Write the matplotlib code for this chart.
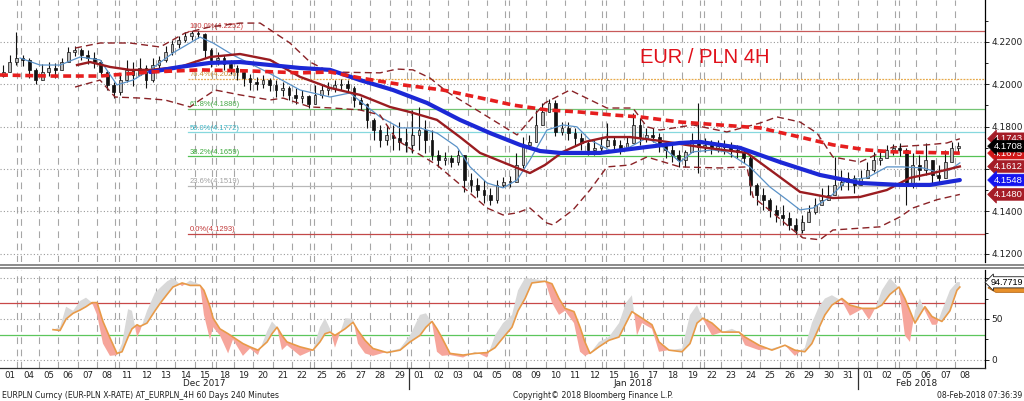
import matplotlib
matplotlib.use('Agg')
import matplotlib.pyplot as plt
from matplotlib.lines import Line2D
from matplotlib.patches import Polygon
import numpy as np

plt.rcParams['font.family'] = ['DejaVu Sans']

# trading days on the time axis (4h bars, weekends skipped)
day_labels = ['01', '04', '05', '06', '07', '08', '11', '12', '13', '14', '15', '18', '19', '20', '21', '22',
              '25', '26', '27', '28', '29',
              '01', '02', '03', '04', '05', '08', '09', '10', '11', '12', '15', '16', '17', '18', '19', '22',
              '23', '24', '25', '26', '29', '30', '31',
              '01', '02', '05', '06', '07', '08']
month_labels = ['Dec 2017', 'Jan 2018', 'Feb 2018']
month_first_day = [0, 21, 44]
week_breaks = [0, 5, 10, 15, 20, 25, 30, 35, 40, 45]   # last day before a weekend

# EURPLN candles, read as 3 bars per trading day
first_open = 4.2040
close_8h = [
    4.2058, 4.2105, 4.2124, 4.2115, 4.2068, 4.2020, 4.2058, 4.2077, 4.2068,
    4.2105, 4.2153, 4.2162, 4.2138, 4.2124, 4.2105, 4.2058, 4.1997, 4.1964,
    4.2020, 4.2068, 4.2044, 4.2077, 4.2020, 4.2091, 4.2115, 4.2153, 4.2190,
    4.2209, 4.2228, 4.2242, 4.2238, 4.2162, 4.2115, 4.2124, 4.2096, 4.2077,
    4.2058, 4.2030, 4.2011, 4.2002, 4.2020, 4.1997, 4.1973, 4.1983, 4.1950,
    4.1935, 4.1945, 4.1907, 4.1950, 4.1973, 4.1983, 4.1997, 4.2002, 4.1983,
    4.1926, 4.1907, 4.1832, 4.1784, 4.1737, 4.1761, 4.1747, 4.1728, 4.1714,
    4.1761, 4.1784, 4.1737, 4.1666, 4.1643, 4.1652, 4.1633, 4.1666, 4.1548,
    4.1525, 4.1501, 4.1478, 4.1455, 4.1525, 4.1539, 4.1539, 4.1619, 4.1714,
    4.1728, 4.1808, 4.1869, 4.1912, 4.1775, 4.1794, 4.1770, 4.1747, 4.1723,
    4.1690, 4.1700, 4.1709, 4.1737, 4.1714, 4.1690, 4.1723, 4.1808, 4.1747,
    4.1761, 4.1751, 4.1714, 4.1690, 4.1666, 4.1643, 4.1681, 4.1737, 4.1704,
    4.1714, 4.1700, 4.1709, 4.1704, 4.1690, 4.1681, 4.1652, 4.1525, 4.1478,
    4.1455, 4.1407, 4.1383, 4.1369, 4.1336, 4.1312, 4.1350, 4.1397, 4.1430,
    4.1455, 4.1478, 4.1525, 4.1539, 4.1558, 4.1525, 4.1558, 4.1596, 4.1643,
    4.1652, 4.1690, 4.1700, 4.1690, 4.1525, 4.1619, 4.1596, 4.1643, 4.1572,
    4.1558, 4.1633, 4.1700, 4.1708]
high_8h = [
    4.2091, 4.2138, 4.2247, 4.2138, 4.2124, 4.2077, 4.2096, 4.2105, 4.2101,
    4.2124, 4.2176, 4.2181, 4.2171, 4.2162, 4.2153, 4.2115, 4.2068, 4.2011,
    4.2044, 4.2115, 4.2105, 4.2124, 4.2091, 4.2124, 4.2134, 4.2181, 4.2209,
    4.2228, 4.2247, 4.2252, 4.2250, 4.2242, 4.2171, 4.2153, 4.2138, 4.2115,
    4.2091, 4.2068, 4.2049, 4.2035, 4.2044, 4.2030, 4.2020, 4.2011, 4.1992,
    4.1983, 4.1973, 4.1950, 4.1997, 4.2002, 4.2011, 4.2020, 4.2025, 4.2020,
    4.1992, 4.1940, 4.1912, 4.1841, 4.1808, 4.1808, 4.1808, 4.1822, 4.1794,
    4.1879, 4.1893, 4.1832, 4.1784, 4.1690, 4.1681, 4.1666, 4.1690, 4.1619,
    4.1581, 4.1558, 4.1548, 4.1511, 4.1548, 4.1563, 4.1567, 4.1676, 4.1751,
    4.1761, 4.1879, 4.1912, 4.1931, 4.1926, 4.1822, 4.1822, 4.1794, 4.1770,
    4.1737, 4.1737, 4.1747, 4.1817, 4.1751, 4.1737, 4.1751, 4.1865, 4.1841,
    4.1794, 4.1794, 4.1770, 4.1728, 4.1714, 4.1690, 4.1690, 4.1770, 4.1912,
    4.1747, 4.1737, 4.1737, 4.1737, 4.1728, 4.1714, 4.1690, 4.1666, 4.1534,
    4.1511, 4.1463, 4.1430, 4.1430, 4.1397, 4.1369, 4.1383, 4.1430, 4.1463,
    4.1511, 4.1525, 4.1657, 4.1596, 4.1586, 4.1572, 4.1596, 4.1633, 4.1681,
    4.1690, 4.1714, 4.1718, 4.1723, 4.1700, 4.1676, 4.1666, 4.1723, 4.1643,
    4.1619, 4.1690, 4.1728, 4.1728]
low_8h = [
    4.2035, 4.2068, 4.2091, 4.2087, 4.2030, 4.2002, 4.2020, 4.2039, 4.2030,
    4.2068, 4.2105, 4.2134, 4.2115, 4.2096, 4.2077, 4.2039, 4.1973, 4.1935,
    4.1950, 4.2011, 4.1992, 4.2044, 4.1983, 4.2011, 4.2077, 4.2105, 4.2138,
    4.2171, 4.2200, 4.2209, 4.2219, 4.2124, 4.2082, 4.2091, 4.2068, 4.2049,
    4.2020, 4.1992, 4.1973, 4.1973, 4.1983, 4.1969, 4.1940, 4.1945, 4.1926,
    4.1907, 4.1912, 4.1888, 4.1912, 4.1935, 4.1950, 4.1964, 4.1973, 4.1959,
    4.1893, 4.1879, 4.1794, 4.1737, 4.1704, 4.1714, 4.1690, 4.1690, 4.1681,
    4.1676, 4.1690, 4.1676, 4.1643, 4.1610, 4.1619, 4.1610, 4.1619, 4.1492,
    4.1492, 4.1468, 4.1440, 4.1430, 4.1440, 4.1515, 4.1515, 4.1558, 4.1605,
    4.1700, 4.1737, 4.1808, 4.1879, 4.1756, 4.1761, 4.1737, 4.1714, 4.1690,
    4.1666, 4.1666, 4.1676, 4.1704, 4.1681, 4.1671, 4.1690, 4.1737, 4.1714,
    4.1728, 4.1728, 4.1681, 4.1652, 4.1633, 4.1610, 4.1610, 4.1690, 4.1581,
    4.1681, 4.1671, 4.1681, 4.1671, 4.1657, 4.1652, 4.1629, 4.1478, 4.1430,
    4.1407, 4.1374, 4.1350, 4.1336, 4.1312, 4.1293, 4.1298, 4.1350, 4.1388,
    4.1430, 4.1455, 4.1478, 4.1501, 4.1501, 4.1487, 4.1525, 4.1563, 4.1586,
    4.1619, 4.1652, 4.1666, 4.1662, 4.1430, 4.1511, 4.1548, 4.1572, 4.1534,
    4.1534, 4.1586, 4.1643, 4.1681]

# overlays (x in trading days)
ma_long_x = [-0.49, 2.08, 4.64, 7.21, 9.77, 12.33, 14.90, 16.44, 17.97, 20.18, 22.23, 24.64, 25.82,
             27.56, 29.26, 30.95, 32.33, 34.38, 36.44, 38.49, 40.54, 42.23, 43.97, 45.31, 48.74]
ma_long_y = [4.2044, 4.2039, 4.2039, 4.2058, 4.2068, 4.2063, 4.2054, 4.2058, 4.2030, 4.1997, 4.1973,
             4.1926, 4.1902, 4.1879, 4.1869, 4.1855, 4.1846, 4.1822, 4.1808, 4.1794, 4.1751, 4.1714,
             4.1690, 4.1681, 4.1675]
ma_mid_x = [7.21, 8.74, 10.28, 11.82, 13.36, 14.90, 16.44, 17.97, 19.67, 21.41, 23.10, 24.64, 26.18,
            27.21, 28.23, 30.28, 32.33, 34.38, 35.41, 37.46, 39.51, 41.56, 43.62, 45.67, 47.21, 48.74]
ma_mid_y = [4.2058, 4.2082, 4.2101, 4.2105, 4.2091, 4.2077, 4.2068, 4.2020, 4.1973, 4.1912, 4.1832,
            4.1770, 4.1714, 4.1685, 4.1676, 4.1676, 4.1700, 4.1723, 4.1728, 4.1700, 4.1633, 4.1572,
            4.1534, 4.1525, 4.1525, 4.1548]
ma_red_x = [3.46, 4.13, 5.15, 6.18, 7.21, 8.74, 10.28, 11.82, 13.36, 14.90, 16.44, 17.97, 19.51, 20.54,
            21.92, 23.10, 24.13, 26.03, 26.69, 27.46, 28.38, 29.51, 30.64, 31.82, 33.36, 35.41, 37.82,
            39.36, 40.54, 42.23, 43.62, 45.00, 46.18, 47.36, 48.74]
ma_red_y = [4.2091, 4.2105, 4.2082, 4.2068, 4.2068, 4.2082, 4.2129, 4.2143, 4.2115, 4.2035, 4.1983,
            4.1950, 4.1893, 4.1869, 4.1832, 4.1751, 4.1676, 4.1605, 4.1581, 4.1619, 4.1681, 4.1728,
            4.1751, 4.1751, 4.1733, 4.1704, 4.1676, 4.1572, 4.1492, 4.1463, 4.1468, 4.1501, 4.1558,
            4.1581, 4.1612]
ma_fast_x = [0.54, 1.56, 2.59, 3.62, 4.64, 5.51, 6.33, 7.21, 8.38, 9.77, 10.44, 11.46, 13.21, 14.90,
             16.44, 17.46, 19.00, 20.03, 21.05, 21.92, 22.95, 23.62, 24.49, 25.31, 26.03, 26.69, 27.56,
             28.38, 29.10, 29.77, 30.95, 31.82, 32.69, 33.51, 34.38, 35.05, 36.08, 36.79, 37.97, 39.00,
             39.87, 40.54, 41.21, 42.08, 42.95, 43.97, 45.00, 45.82, 46.85, 47.56, 48.23, 48.74]
ma_fast_y = [4.2124, 4.2091, 4.2091, 4.2129, 4.2115, 4.1997, 4.2020, 4.2068, 4.2148, 4.2223, 4.2195,
             4.2138, 4.2058, 4.1973, 4.1940, 4.1959, 4.1846, 4.1794, 4.1794, 4.1770, 4.1704, 4.1610,
             4.1534, 4.1511, 4.1548, 4.1643, 4.1784, 4.1808, 4.1799, 4.1737, 4.1681, 4.1704, 4.1747,
             4.1704, 4.1633, 4.1681, 4.1690, 4.1681, 4.1610, 4.1515, 4.1455, 4.1407, 4.1416, 4.1468,
             4.1548, 4.1558, 4.1610, 4.1610, 4.1605, 4.1586, 4.1596, 4.1629]
band_up_x = [3.36, 4.64, 6.18, 7.72, 9.00, 10.28, 11.82, 12.85, 14.38, 15.41, 16.44, 19.00, 19.87, 20.69,
             21.56, 22.44, 24.13, 26.03, 27.46, 28.74, 30.64, 31.97, 32.69, 33.36, 35.05, 36.79, 38.49,
             39.36, 40.54, 41.41, 42.23, 43.62, 44.64, 45.31, 47.05, 48.08, 48.74]
band_up_y = [4.2171, 4.2195, 4.2195, 4.2176, 4.2242, 4.2271, 4.2289, 4.2289, 4.2195, 4.2105, 4.2058,
             4.2054, 4.2072, 4.2068, 4.2030, 4.1964, 4.1869, 4.1761, 4.1912, 4.1973, 4.1888, 4.1888,
             4.1799, 4.1784, 4.1808, 4.1775, 4.1817, 4.1846, 4.1822, 4.1770, 4.1657, 4.1633, 4.1676,
             4.1704, 4.1714, 4.1723, 4.1743]
band_lo_x = [3.36, 4.64, 5.41, 6.69, 7.97, 9.26, 9.77, 10.54, 11.82, 13.36, 14.03, 15.41, 16.59, 17.97,
             19.00, 19.87, 20.90, 21.92, 23.26, 24.49, 25.31, 26.03, 26.69, 27.56, 27.87, 28.90, 29.77,
             30.64, 31.82, 32.69, 34.38, 36.44, 37.82, 38.13, 39.15, 40.18, 40.69, 41.56, 42.23, 44.64,
             45.67, 46.33, 47.56, 48.74]
band_lo_y = [4.1987, 4.2020, 4.1940, 4.1935, 4.1926, 4.1893, 4.1926, 4.1973, 4.1950, 4.1926, 4.1935,
             4.1893, 4.1888, 4.1879, 4.1855, 4.1737, 4.1676, 4.1619, 4.1515, 4.1416, 4.1383, 4.1393,
             4.1416, 4.1345, 4.1336, 4.1407, 4.1501, 4.1610, 4.1619, 4.1657, 4.1610, 4.1605, 4.1610,
             4.1468, 4.1393, 4.1312, 4.1275, 4.1266, 4.1312, 4.1327, 4.1374, 4.1416, 4.1455, 4.1480]

# fibonacci retracement between the Dec high and the Jan low
fib_low, fib_high, fib_start = 4.1293, 4.2252, 9.15
fib_levels = [1.0, 0.764, 0.618, 0.5, 0.382, 0.236, 0.0]
fib_line_colors = ['#c85a5a', '#e6a94a', '#74c474', '#86d8de', '#55c255', '#b8b8b8', '#c24848']
fib_text_colors = ['#c83c3c', '#c8903a', '#48a848', '#3cb4c4', '#3caa3c', '#a0a0a0', '#c03838']

# slow stochastic (%D orange, %K shaded against it)
stoch_x = [2.23, 2.59, 2.90, 3.26, 3.62, 3.92, 4.23, 4.49, 4.79, 5.15, 5.51, 5.77, 6.08, 6.28, 6.54,
           6.69, 7.05, 7.46, 7.72, 8.08, 8.38, 8.85, 9.26, 9.77, 9.97, 10.28, 10.44, 10.79, 11.21, 11.46,
           11.97, 12.33, 12.74, 13.21, 13.46, 13.72, 13.97, 14.23, 14.90, 15.56, 15.92, 16.18, 16.44,
           16.69, 17.21, 17.62, 17.87, 18.23, 18.64, 19.36, 20.03, 20.54, 21.05, 21.36, 21.67, 21.92,
           22.18, 22.59, 23.26, 23.87, 24.49, 24.90, 25.31, 25.77, 26.08, 26.44, 26.79, 27.46, 27.82,
           28.18, 28.49, 28.95, 29.26, 29.51, 29.77, 30.23, 30.74, 31.26, 31.62, 31.92, 32.18, 32.44,
           32.95, 33.31, 33.82, 34.49, 34.90, 35.26, 35.56, 36.03, 36.54, 37.05, 37.41, 37.72, 38.44,
           39.10, 39.77, 40.28, 40.79, 41.15, 41.51, 41.82, 42.18, 42.69, 43.10, 43.72, 44.08, 44.44,
           44.74, 45.15, 45.62, 45.92, 46.18, 46.44, 46.69, 46.95, 47.31, 47.56, 47.82, 48.23, 48.59,
           48.74]
stoch_d = [37, 36, 50, 57, 61, 65, 70, 70, 47, 27, 8, 10, 28, 38, 43, 41, 45, 60, 69, 80, 89, 94, 91,
           91, 85, 65, 51, 38, 32, 28, 20, 16, 12, 22, 32, 40, 30, 22, 16, 12, 22, 32, 34, 30, 38, 46,
           36, 24, 14, 9, 12, 22, 30, 40, 47, 38, 27, 8, 6, 8, 9, 15, 27, 40, 60, 75, 94, 96, 93, 75,
           63, 59, 40, 22, 8, 16, 24, 28, 45, 59, 55, 51, 43, 22, 12, 10, 20, 45, 51, 45, 34, 34, 34,
           28, 18, 12, 18, 12, 10, 20, 39, 55, 67, 75, 67, 63, 63, 63, 67, 80, 89, 75, 60, 45, 55, 65,
           53, 50, 47, 60, 85, 89]
stoch_k = [37, 40, 65, 60, 72, 76, 70, 55, 20, 5, 6, 20, 62, 60, 28, 35, 60, 82, 88, 96, 100, 90, 97,
           92, 55, 25, 40, 30, 8, 25, 5, 14, 6, 35, 47, 40, 12, 18, 5, 12, 40, 51, 38, 15, 51, 50, 20,
           8, 5, 10, 14, 30, 55, 57, 45, 10, 5, 6, 3, 10, 3, 30, 45, 55, 85, 100, 99, 97, 70, 55, 60,
           45, 10, 5, 8, 22, 28, 45, 70, 79, 30, 45, 38, 10, 12, 14, 55, 67, 50, 30, 34, 38, 34, 18,
           12, 14, 18, 5, 15, 45, 65, 75, 79, 72, 54, 62, 49, 65, 85, 100, 88, 30, 22, 60, 75, 60, 43,
           43, 60, 85, 95, 95]
stoch_last = 94.7719
stoch_d_last = 88.0
price_tags = [(4.1675, '#d01818'), (4.1743, '#a51d27'), (4.1612, '#a51d27'), (4.1548, '#1414f0'),
              (4.1480, '#a51d27'), (4.1708, '#000000')]

fig = plt.figure(figsize=(10.24, 4.01), dpi=100)
H = 401.0
ax1 = fig.add_axes([0, 1 - 262 / H, 985 / 1024, 262 / H])
ax2 = fig.add_axes([0, 1 - 368 / H, 985 / 1024, 98 / H])
xmin, xmax = -0.49, 50.03
n_days = len(day_labels)
tag_font = dict(family='Liberation Sans', fontsize=6.8)

for ax in (ax1, ax2):
    ax.set_xlim(xmin, xmax)
    for s in ('left', 'top'):
        ax.spines[s].set_visible(False)
    ax.spines['right'].set_color('#000000')
    ax.spines['right'].set_linewidth(0.9)
    # day separators, doubled at weekends
    for i in range(n_days - 1):
        xs = [i + 0.4, i + 0.6] if i in week_breaks else [i + 0.5]
        for xv in xs:
            ax.axvline(xv, color='#a6a6a6', lw=0.8, ls=(0, (6, 5)), zorder=0)
    ax.yaxis.tick_right()
    ax.tick_params(axis='y', labelsize=6.5, length=3, width=0.7, pad=1.5, colors='#202020')

ax1.spines['bottom'].set_visible(False)
ax1.set_xticks([])

# --- main panel ---
ax1.set_ylim(4.1161, 4.2398)
main_ticks = np.arange(4.12, 4.221, 0.02)
for yv in main_ticks:
    ax1.axhline(yv, color='#9a9a9a', lw=0.8, ls=(0, (1, 2)), zorder=0)
ax1.set_yticks(main_ticks)
# the 4.1600 label sits under the price tags
ax1.set_yticklabels(['' if abs(t - 4.16) < 1e-6 else '%.4f' % t for t in main_ticks])
ax1.set_yticks(np.arange(4.13, 4.24, 0.02), minor=True)
ax1.tick_params(axis='y', which='minor', length=2, width=0.6)

fib_rng = fib_high - fib_low
for lev, lc, tc in zip(fib_levels, fib_line_colors, fib_text_colors):
    yv = fib_low + lev * fib_rng
    ls = (0, (1.5, 1)) if lev == 0.764 else '-'
    ax1.plot([fib_start, xmax], [yv, yv], color=lc, lw=0.9, ls=ls, zorder=1)
    ax1.text(fib_start + 0.1, yv + 0.0004, '%.1f%%(%.4f)' % (lev * 100, yv), color=tc, fontsize=5.5,
             family='Liberation Sans', ha='left', va='bottom', zorder=1)

# candles
n_bars = len(close_8h)
bar_x = np.array([b // 3 - 1 / 3 + (b % 3) / 3 for b in range(n_bars)])
closes = np.array(close_8h)
opens = np.concatenate([[first_open], closes[:-1]])
highs = np.maximum(np.array(high_8h), np.maximum(opens, closes))
lows = np.minimum(np.array(low_8h), np.minimum(opens, closes))
ax1.vlines(bar_x, lows, highs, color='#111111', lw=0.8, zorder=2)
up = closes >= opens
body = np.abs(closes - opens)
body = np.maximum(body, 0.00025)
ax1.bar(bar_x[up], body[up], bottom=np.minimum(opens, closes)[up], width=0.15,
        color='#bdbdbd', edgecolor='#111111', lw=0.5, zorder=3)
ax1.bar(bar_x[~up], body[~up], bottom=np.minimum(opens, closes)[~up], width=0.15,
        color='#111111', edgecolor='#111111', lw=0.5, zorder=3)

ax1.plot(ma_fast_x, ma_fast_y, color='#5a92c8', lw=0.9, zorder=4)
ax1.plot(band_up_x, band_up_y, color='#8a2226', lw=1.0, ls=(0, (5, 3)), zorder=4)
ax1.plot(band_lo_x, band_lo_y, color='#8a2226', lw=1.0, ls=(0, (5, 3)), zorder=4)
ax1.plot(ma_red_x, ma_red_y, color='#9a1c20', lw=1.7, zorder=5)
ax1.plot(ma_mid_x, ma_mid_y, color='#1c28d6', lw=3.0, zorder=6, solid_capstyle='round')
ax1.plot(ma_long_x, ma_long_y, color='#e61e1e', lw=2.6, ls=(0, (2.2, 1.3)), zorder=7)

ax1.text(0.6497, 0.782, 'EUR / PLN 4H', transform=ax1.transAxes, color='#e0101a', fontsize=14.5,
         family='Liberation Sans', ha='left', va='center', zorder=8)

for val, col in price_tags:
    ax1.text(1.009, val, '%.4f' % val, transform=ax1.get_yaxis_transform(), ha='left', va='center',
             color='white', zorder=20, clip_on=False,
             bbox=dict(boxstyle='larrow,pad=0.14', fc=col, ec=col, lw=0.5), **tag_font)

# --- stochastic panel ---
ax2.set_ylim(-9.8, 109.8)
for yv in (0, 50, 100):
    ax2.axhline(yv, color='#9a9a9a', lw=0.8, ls=(0, (1, 2)), zorder=0)
ax2.axhline(70, color='#c84848', lw=0.9, zorder=1)
ax2.axhline(30, color='#5cc65c', lw=0.9, zorder=1)
sx = np.array(stoch_x)
sd = np.array(stoch_d, dtype=float)
sk = np.array(stoch_k, dtype=float)
ax2.fill_between(sx, sk, sd, where=sk >= sd, interpolate=True, color='#d9d9d9', lw=0, zorder=2)
ax2.fill_between(sx, sk, sd, where=sk < sd, interpolate=True, color='#f6a59b', lw=0, zorder=2)
ax2.plot(sx, sd, color='#e89a48', lw=1.2, zorder=3)
ax2.set_yticks([0, 50, 100])
ax2.set_yticklabels(['0', '50', ''])   # "100" is covered by the value tag
ax2.set_yticks([25, 75], minor=True)
ax2.tick_params(axis='y', which='minor', length=2, width=0.6)
ax2.spines['bottom'].set_color('#303030')
ax2.spines['bottom'].set_linewidth(0.9)
ax2.set_xticks(range(n_days))
ax2.set_xticklabels(day_labels)
ax2.tick_params(axis='x', length=0, pad=2.5, labelsize=6.2, colors='#202020')

# %D tag (hidden under the %K tag) and %K value tag
yt = ax2.get_yaxis_transform()
ax2.add_patch(Polygon([(1.003, stoch_d_last), (1.011, stoch_d_last + 5.5), (1.04, stoch_d_last + 5.5),
                       (1.04, stoch_d_last - 5.5), (1.011, stoch_d_last - 5.5)], closed=True,
                      transform=yt, fc='#e8902a', ec='#b86a18', lw=0.6, clip_on=False, zorder=19))
ax2.text(1.006, stoch_last, '%.4f' % stoch_last, transform=yt, ha='left',
         va='center', color='black', zorder=20, clip_on=False,
         bbox=dict(boxstyle='larrow,pad=0.12', fc='white', ec='#202020', lw=0.6),
         family='Liberation Sans', fontsize=6.5)

# month labels and separators under the axis
tr = ax2.get_xaxis_transform()
ends = month_first_day[1:] + [n_days]
for name, a, b in zip(month_labels, month_first_day, ends):
    ax2.text((a + b - 1) / 2.0, -0.155, name, transform=tr, ha='center', va='center',
             fontsize=6.4, color='#202020')
for a in month_first_day[1:]:
    ax2.plot([a - 0.5, a - 0.5], [0, -0.215], transform=tr, color='#303030', lw=0.9, clip_on=False)

# panel separator
for yp in (264.5, 268.3):
    fig.add_artist(Line2D([0, 1], [1 - yp / H, 1 - yp / H], transform=fig.transFigure,
                          color='#8a8a8a', lw=1.4))

fig.text(0.002, 1 - 396 / H, 'EURPLN Curncy (EUR-PLN X-RATE) AT_EURPLN_4H 60 Days 240 Minutes',
         fontsize=5.6, color='#202020', ha='left', va='center')
fig.text(0.5795, 1 - 396 / H, 'Copyright\u00a9 2018 Bloomberg Finance L.P.', fontsize=5.6,
         color='#202020', ha='center', va='center')
fig.text(0.998, 1 - 396 / H, '08-Feb-2018 07:36:39', fontsize=5.6, color='#202020',
         ha='right', va='center')

fig.savefig('out.png', dpi=100)
